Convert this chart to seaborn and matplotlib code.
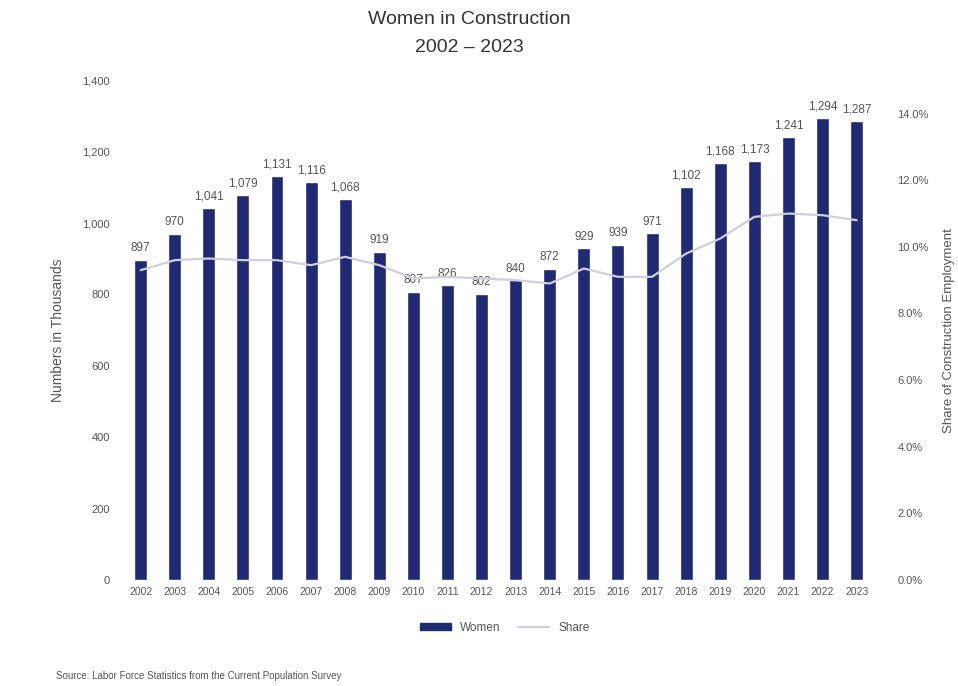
import numpy as np
import pandas as pd
import matplotlib
matplotlib.use("Agg")
import matplotlib.pyplot as plt
import seaborn as sns
from matplotlib.patches import Patch
from matplotlib.lines import Line2D
from matplotlib.ticker import FuncFormatter

years = [str(y) for y in range(2002, 2024)]
women = [897, 970, 1041, 1079, 1131, 1116, 1068, 919, 807, 826, 802, 840,
         872, 929, 939, 971, 1102, 1168, 1173, 1241, 1294, 1287]
share = [9.3, 9.6, 9.65, 9.6, 9.6, 9.45, 9.7, 9.45, 9.05, 9.1, 9.05, 9.0,
         8.9, 9.35, 9.1, 9.1, 9.8, 10.25, 10.9, 11.0, 10.95, 10.8]

df = pd.DataFrame({"Year": years, "Women": women, "Share": share})

sns.set_theme(style="white")
plt.rcParams['font.family'] = ['Liberation Sans', 'DejaVu Sans']

bar_color = "#1f2a72"
line_color = "#cdd0d8"
text_color = "#555555"

fig = plt.figure(figsize=(9.58, 6.86), dpi=100)
ax = fig.add_axes([0.129, 0.1545, 0.783, 0.7285])

sns.barplot(data=df, x="Year", y="Women", color=bar_color, width=0.38,
            saturation=1, ax=ax)
ax.set_ylim(0, 1400)
ax.set_yticks(np.arange(0, 1401, 200))
ax.yaxis.set_major_formatter(FuncFormatter(lambda v, p: f"{int(v):,}"))
ax.set_xlabel("")
ax.set_ylabel("Numbers in Thousands", fontsize=10, color=text_color, labelpad=12)
ax.tick_params(axis='x', labelsize=7.5, colors=text_color, length=0, pad=5)
ax.tick_params(axis='y', labelsize=8, colors=text_color, length=0, pad=10)
for c in ax.containers:
    ax.bar_label(c, labels=[f"{v:,}" for v in women], fontsize=8.5,
                 color=text_color, padding=4)
for s in ax.spines.values():
    s.set_visible(False)

ax2 = ax.twinx()
sns.lineplot(x=np.arange(len(years)), y=share, color=line_color, linewidth=1.6,
             ax=ax2)
ax2.set_ylim(0, 15)
ax2.set_yticks(np.arange(0, 15, 2))
ax2.yaxis.set_major_formatter(FuncFormatter(lambda v, p: f"{v:.1f}%"))
ax2.tick_params(axis='y', labelsize=8, colors=text_color, length=0, pad=17)
ax2.set_ylabel("Share of Construction Employment", fontsize=9.5,
               color=text_color, labelpad=10)
for s in ax2.spines.values():
    s.set_visible(False)
ax.set_xlim(-0.5, len(years) - 0.5)

handles = [Patch(facecolor=bar_color, edgecolor=bar_color, label="Women"),
           Line2D([0], [0], color=line_color, linewidth=1.6, label="Share")]
fig.legend(handles=handles, loc="center", bbox_to_anchor=(0.527, 0.085),
           ncol=2, frameon=False, fontsize=8.5, labelcolor=text_color,
           handlelength=2.6, handleheight=0.5, columnspacing=1.5)

fig.text(0.49, 0.972, "Women in Construction", ha="center", va="center",
         fontsize=14, color="#333333")
fig.text(0.49, 0.931, "2002 \u2013 2023", ha="center", va="center",
         fontsize=14, color="#333333")
fig.text(0.058, 0.015, "Source: Labor Force Statistics from the Current Population Survey",
         ha="left", va="center", fontsize=7, color=text_color)

fig.savefig("out.png", dpi=100, facecolor="white")
